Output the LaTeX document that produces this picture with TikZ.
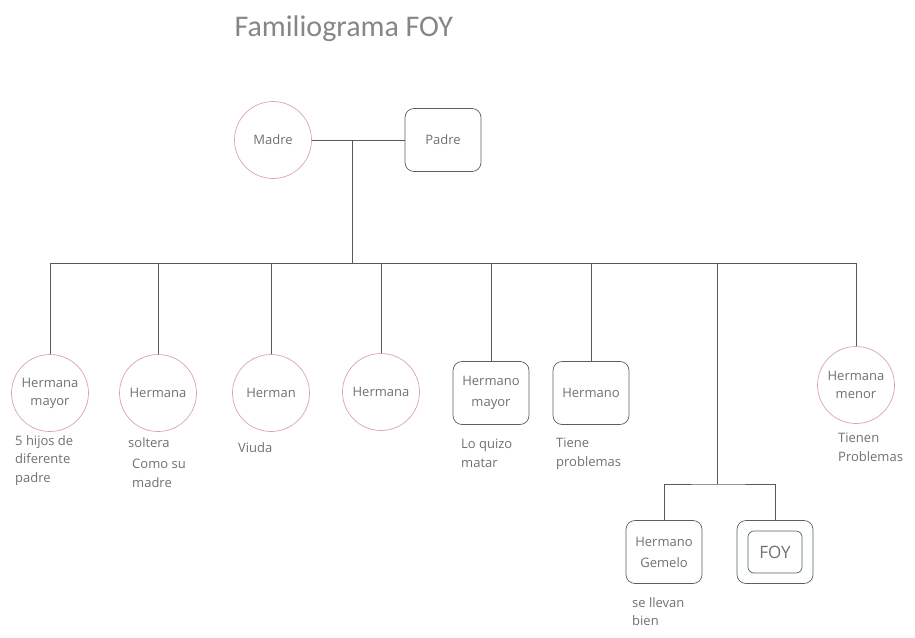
\documentclass[tikz,border=0pt]{standalone}
\usepackage{fontspec}
\setmainfont{Open Sans}
\newfontfamily\titlefont{Carlito}
\definecolor{mujerc}{HTML}{DBA4A4}
\definecolor{hombrec}{HTML}{4F6462}
\definecolor{lineac}{HTML}{595959}
\definecolor{textoc}{HTML}{707070}
\tikzset{
  mujer/.style={draw=mujerc, line width=0.7pt, circle, minimum size=77pt, inner sep=0pt, align=center, text=textoc, font=\fontsize{13}{18}\selectfont},
  hombre/.style={draw=hombrec, line width=0.7pt, rounded corners=9pt, minimum width=76pt, minimum height=63pt, inner sep=0pt, align=center, text=textoc, font=\fontsize{13}{21}\selectfont},
  nota/.style={anchor=north west, align=left, inner sep=0pt, text=textoc, font=\fontsize{13}{18.5}\selectfont},
  linea/.style={draw=lineac, line width=1pt}
}

\begin{document}
\begin{tikzpicture}[x=1pt,y=-1pt]
\useasboundingbox (0,0) rectangle (915,637);
\node[anchor=base west, text=gray!95, font=\titlefont\fontsize{30}{36}\selectfont] (titulo) at (231,36) {Familiograma FOY};
\node[mujer] (madre) at (273,140) {Madre};
\node[hombre] (padre) at (443,140) {Padre};
\node[mujer] (h1) at (50,393) {Hermana\\mayor};
\node[mujer] (h2) at (158,393) {Hermana};
\node[mujer] (h3) at (271,393) {Herman};
\node[mujer] (h4) at (381,392) {Hermana};
\node[hombre] (h5) at (491,393) {Hermano\\mayor};
\node[hombre] (h6) at (591,393) {Hermano};
\node[mujer] (h7) at (856,385) {Hermana\\menor};
\node[hombre] (gemelo) at (664,552) {Hermano\\Gemelo};
\node[hombre] (foy) at (775,552) {};
\node[draw=hombrec, line width=0.7pt, rounded corners=6pt, minimum width=54pt, minimum height=42pt, text=textoc, font=\fontsize{17}{20}\selectfont] (foyin) at (foy) {FOY};
\node[nota] (n1) at (15,435) {5 hijos de\\diferente\\padre};
\node[nota] (n2) at (128,437) {soltera};
\node[nota] (n2b) at (132,459) {Como su\\madre};
\node[nota] (n3) at (238,442) {Viuda};
\node[nota] (n5) at (461,439) {Lo quizo\\matar};
\node[nota] (n6) at (556,438) {Tiene\\problemas};
\node[nota] (n7) at (838,433) {Tienen\\Problemas};
\node[nota] (ng) at (632,597) {se llevan\\bien};
\coordinate (pareja) at (352,140);
\coordinate (barra) at (352,263);
\coordinate (gem) at (717,484);
\draw[linea] (madre.east) -- (padre.west);
\draw[linea] (pareja) -- (barra);
\draw[linea] (h1.north |- barra) -- (h7.north |- barra);
\draw[linea] (h1.north) -- (h1.north |- barra);
\draw[linea] (h2.north) -- (h2.north |- barra);
\draw[linea] (h3.north) -- (h3.north |- barra);
\draw[linea] (h4.north) -- (h4.north |- barra);
\draw[linea] (h5.north) -- (h5.north |- barra);
\draw[linea] (h6.north) -- (h6.north |- barra);
\draw[linea] (h7.north) -- (h7.north |- barra);
\draw[linea] (gem |- barra) -- (gem);
\draw[linea] (gemelo.north) |- (gem) -| (foy.north);
\end{tikzpicture}
\end{document}
